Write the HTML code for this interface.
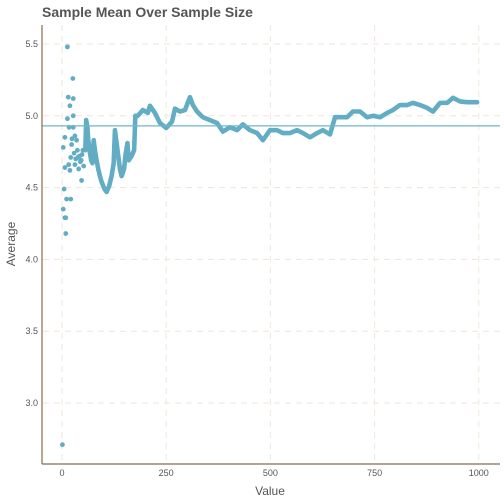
<!DOCTYPE html>
<html><head><meta charset="utf-8"><style>
body{margin:0;background:#fff}
svg{display:block;font-family:"Liberation Sans",sans-serif}
</style></head><body>
<svg id="c" width="504" height="504">
<text x="42" y="17" font-size="14" font-weight="bold" fill="#555">Sample Mean Over Sample Size</text>
<g id="grid"></g><g id="marks"></g><g id="axes"></g>
<text x="270" y="495" font-size="12" fill="#555" text-anchor="middle">Value</text>
<text transform="translate(15,244) rotate(-90)" font-size="12" fill="#555" text-anchor="middle">Average</text>
</svg>
<script>
const xTicks=[0,250,500,750,1000];
const yTicks=[3.0,3.5,4.0,4.5,5.0,5.5];
const meanLine=4.93;
const scatterN=[1,3,7,9,9,5,11,21,3,7,7,13,26,15,27,19,13,27,17,27,19,21,31,31,35,37,38,42,40,46,47,50,52,24,29,33,44,48,23,16];
const scatterV=[2.71,4.35,4.29,4.18,4.29,4.49,4.42,4.42,4.78,4.64,4.85,5.48,5.26,5.13,5.12,5.07,4.98,5.0,4.92,4.92,4.62,4.71,4.86,4.66,4.83,4.76,4.71,4.72,4.63,4.69,4.55,4.76,4.65,4.84,4.74,4.70,4.68,4.73,4.80,4.66];
const pathN=[56,58,61,63,66,70,73,76,79,83,87,91,95,102,107,113,119,124,127,131,135,139,143,149,152,157,160,167,173,176,182,194,206,211,223,235,250,264,271,283,295,307,314,324,338,355,372,386,403,420,434,451,468,482,499,516,530,547,564,578,595,612,626,643,655,667,684,698,715,732,746,763,780,794,811,828,842,859,876,890,907,924,938,955,972,996];
const pathV=[4.76,4.97,4.92,4.83,4.76,4.69,4.67,4.83,4.76,4.69,4.63,4.58,4.54,4.49,4.47,4.51,4.58,4.67,4.90,4.81,4.72,4.63,4.58,4.63,4.72,4.81,4.69,4.72,4.76,5.00,5.00,5.04,5.02,5.07,5.02,4.95,4.915,4.96,5.05,5.03,5.04,5.13,5.075,5.03,4.99,4.97,4.95,4.89,4.92,4.90,4.94,4.90,4.88,4.83,4.90,4.90,4.88,4.88,4.90,4.88,4.85,4.88,4.90,4.87,4.99,4.99,4.99,5.03,5.03,4.99,5.0,4.99,5.02,5.04,5.075,5.075,5.09,5.075,5.055,5.03,5.09,5.09,5.125,5.10,5.095,5.095];
const X=v=>62+v*0.4168, Y=v=>44+(5.5-v)*143.6;
const ns='http://www.w3.org/2000/svg';
function mk(t,a,p){const e=document.createElementNS(ns,t);for(const k in a)e.setAttribute(k,a[k]);p.appendChild(e);return e;}
const grid=document.getElementById('grid'),marks=document.getElementById('marks'),axes=document.getElementById('axes');
xTicks.forEach(t=>{
 const l=mk('line',{x1:X(t),x2:X(t),y1:25,y2:463,stroke:'#f1e6da','stroke-dasharray':'6,5'},grid);
 
 
 const tx=mk('text',{x:X(t),y:476,'font-size':9,fill:'#555','text-anchor':'middle'},axes);tx.textContent=t;
 
 
});
yTicks.forEach(t=>{
 const l=mk('line',{x1:43,x2:500,y1:Y(t),y2:Y(t),stroke:'#f1e6da','stroke-dasharray':'6,5'},grid);
 
 
 const tx=mk('text',{x:38,y:Y(t)+3,'font-size':9,fill:'#555','text-anchor':'end'},axes);tx.textContent=t.toFixed(1);
 
 
});
const ax=mk('line',{x1:42,x2:42,y1:25,y2:464,stroke:'#8b6b4a','stroke-width':1.2},axes);


const bx=mk('line',{x1:42,x2:500,y1:464,y2:464,stroke:'#8b6b4a','stroke-width':1.2},axes);


const pl=mk('polyline',{points:pathN.map((n,i)=>X(n)+','+Y(pathV[i])).join(' '),fill:'none',stroke:'#62adc4','stroke-width':4.6,'stroke-linejoin':'round','stroke-linecap':'round'},marks);


scatterN.forEach((n,i)=>{
 const c=mk('circle',{cx:X(n),cy:Y(scatterV[i]),r:2.4,fill:'#62adc4'},marks);
 
 
});
const ml=mk('line',{x1:42,x2:500,y1:Y(meanLine),y2:Y(meanLine),stroke:'#6fb6cc','stroke-width':1.2},marks);


</script>
</body></html>
